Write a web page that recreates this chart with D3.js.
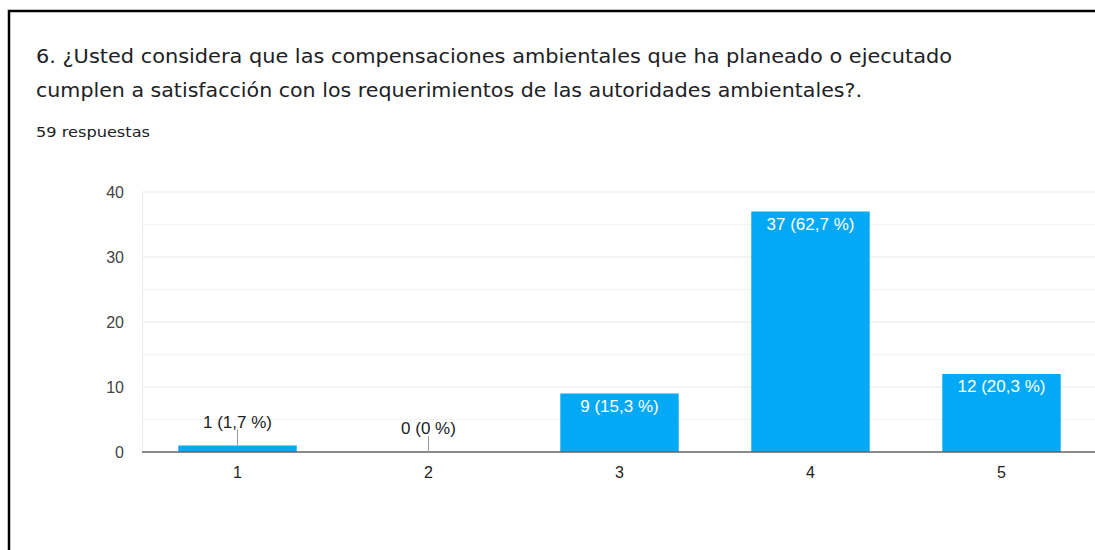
<!DOCTYPE html>
<html>
<head>
<meta charset="utf-8">
<script src="https://cdn.jsdelivr.net/npm/d3@7"></script>
<style>
  body { margin: 0; background: #fff; }
  svg { display: block; }
</style>
</head>
<body>
<svg width="1095" height="550"></svg>
<script>
var titleLines = [
    "6. ¿Usted considera que las compensaciones ambientales que ha planeado o ejecutado",
    "cumplen a satisfacción con los requerimientos de las autoridades ambientales?."
];
var titleWidths = [916, 826];
var subtitle = "59 respuestas";
var categories = ["1", "2", "3", "4", "5"];
var counts = [1, 0, 9, 37, 12];
var percents = ["1,7 %", "0 %", "15,3 %", "62,7 %", "20,3 %"];
var yTicks = [0, 10, 20, 30, 40];
var yMinorTicks = [5, 15, 25, 35];

var svg = d3.select("svg");
var labelFont = "'Liberation Sans', Arial, sans-serif";

// frame (screenshot border)
svg.append("path")
    .attr("d", "M9,550 V11 H1095")
    .attr("fill", "none")
    .attr("stroke", "#000")
    .attr("stroke-width", 2.5);

// title
svg.selectAll("text.title")
    .data(titleLines)
    .enter().append("text")
    .attr("class", "title")
    .attr("x", 36)
    .attr("y", function (d, i) { return 63 + i * 34; })
    .attr("textLength", function (d, i) { return titleWidths[i]; })
    .attr("lengthAdjust", "spacingAndGlyphs")
    .style("font-family", "'DejaVu Sans', sans-serif")
    .style("font-size", "20px")
    .style("fill", "#202124")
    .text(function (d) { return d; });

svg.append("text")
    .attr("x", 36)
    .attr("y", 137)
    .attr("textLength", 114)
    .attr("lengthAdjust", "spacingAndGlyphs")
    .style("font-family", "'DejaVu Sans', sans-serif")
    .style("font-size", "14.5px")
    .style("fill", "#202124")
    .text(subtitle);

var x = d3.scaleBand()
    .domain(categories)
    .range([142, 1097])
    .paddingInner(0.38)
    .paddingOuter(0.19);

var y = d3.scaleLinear()
    .domain([0, 40])
    .range([452, 192]);

// gridlines
svg.selectAll("line.minor")
    .data(yMinorTicks)
    .enter().append("line")
    .attr("x1", 142).attr("x2", 1095)
    .attr("y1", function (d) { return y(d); })
    .attr("y2", function (d) { return y(d); })
    .attr("stroke", "#f3f3f3");

svg.selectAll("line.major")
    .data(yTicks)
    .enter().append("line")
    .attr("x1", 142).attr("x2", 1095)
    .attr("y1", function (d) { return y(d); })
    .attr("y2", function (d) { return y(d); })
    .attr("stroke", "#e8e8e8");

svg.append("line")
    .attr("x1", 142.5).attr("x2", 142.5)
    .attr("y1", y(40)).attr("y2", y(0))
    .attr("stroke", "#ebebeb");

// y labels
var yAxis = svg.append("g")
    .attr("transform", "translate(124,0)")
    .call(d3.axisLeft(y).tickValues(yTicks).tickSize(0).tickPadding(0));
yAxis.select(".domain").remove();
yAxis.selectAll("text")
    .style("font-family", labelFont)
    .style("font-size", "16px")
    .style("fill", "#444");

// bars
svg.selectAll("rect.bar")
    .data(counts)
    .enter().append("rect")
    .attr("class", "bar")
    .attr("x", function (d, i) { return x(categories[i]); })
    .attr("y", function (d) { return y(d); })
    .attr("width", x.bandwidth())
    .attr("height", function (d) { return y(0) - y(d); })
    .attr("fill", "#03a9f4");

// x axis
var xAxis = svg.append("g")
    .attr("transform", "translate(0," + y(0) + ")")
    .call(d3.axisBottom(x).tickSize(0).tickPadding(14));
xAxis.select(".domain").remove();
xAxis.selectAll("text")
    .attr("dy", null)
    .attr("y", 26)
    .style("font-family", labelFont)
    .style("font-size", "16px")
    .style("fill", "#222");

svg.append("line")
    .attr("x1", 142).attr("x2", 1095)
    .attr("y1", y(0)).attr("y2", y(0))
    .attr("stroke", "#666")
    .attr("stroke-width", 1.5);

// value labels
counts.forEach(function (d, i) {
    var cx = x(categories[i]) + x.bandwidth() / 2;
    var label = d + " (" + percents[i] + ")";
    var inside = (y(0) - y(d)) > 25;
    if (inside) {
        svg.append("text")
            .attr("x", cx)
            .attr("y", y(d) + 18)
            .attr("text-anchor", "middle")
            .style("font-family", labelFont)
            .style("font-size", "17px")
            .style("fill", "#fff")
            .text(label);
    } else {
        svg.append("line")
            .attr("x1", cx).attr("x2", cx)
            .attr("y1", y(d) - 16).attr("y2", y(d))
            .attr("stroke", "#999");
        svg.append("text")
            .attr("x", cx)
            .attr("y", y(d) - 18)
            .attr("text-anchor", "middle")
            .style("font-family", labelFont)
            .style("font-size", "17px")
            .style("fill", "#222")
            .text(label);
    }
});
</script>
</body>
</html>
